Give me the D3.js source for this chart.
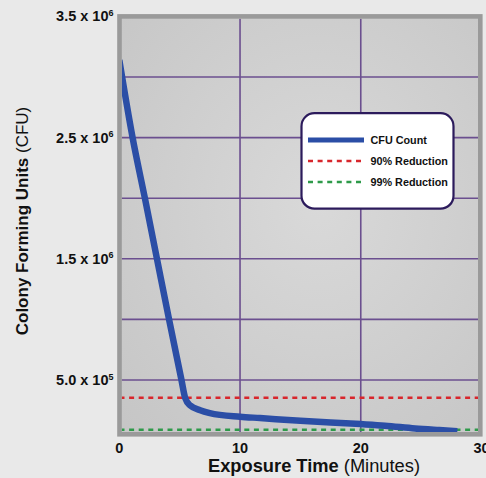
<!DOCTYPE html>
<html><head><meta charset="utf-8">
<script src="https://cdn.jsdelivr.net/npm/d3@7"></script>
<style>
html,body{margin:0;padding:0;background:#e9e9e9;}
svg{display:block;font-family:"Liberation Sans",Arial,sans-serif;}
</style></head><body>
<svg id="c" width="486" height="478"></svg>
<script>
// Data
const minutes = [0, 1.1, 2.12, 3.12, 4.12, 5.15, 5.45, 5.87, 6.7, 7.5, 10, 11.65, 15, 20, 22, 24.5, 26.5, 28];
const cfu = [3.14e6, 2.5e6, 2.0e6, 1.5e6, 1.0e6, 0.5e6, 0.354e6, 0.29e6, 0.25e6, 0.227e6, 0.197e6, 0.186e6, 0.163e6, 0.136e6, 0.123e6, 0.1e6, 0.087e6, 0.078e6];
const reduction90 = 0.354e6;
const reduction99 = 0.09e6;
const xTicks = [0, 10, 20, 30];
const xGrid = [10, 20];
const yGrid = [0.5e6, 1.0e6, 1.5e6, 2.0e6, 2.5e6, 3.0e6];
const yTickValues = [0.5e6, 1.5e6, 2.5e6, 3.5e6];
const yTickLabels = [["5.0 x 10", "5"], ["1.5 x 10", "6"], ["2.5 x 10", "6"], ["3.5 x 10", "6"]];
const legendItems = ["CFU Count", "90% Reduction", "99% Reduction"];

(function(){
const svg = d3.select("#c");
const x = d3.scaleLinear().domain([0, 30]).range([119.3, 481.5]);
const y = d3.scaleLinear().domain([0, 3.5e6]).range([440.6, 16.4]);

const pL = 119.5, pR = 480.3, pT = 16.4, pB = 434.3;

const defs = svg.append("defs");
const rg = defs.append("radialGradient").attr("id","bg").attr("cx","55%").attr("cy","45%").attr("r","75%");
rg.append("stop").attr("offset","0%").attr("stop-color","#d9d9d9");
rg.append("stop").attr("offset","100%").attr("stop-color","#c6c6c6");
defs.append("clipPath").attr("id","clip").append("rect")
  .attr("x", pL+2.2).attr("y", pT+2.3).attr("width", pR-pL-4.4).attr("height", pB-pT-4.5);

svg.append("rect").attr("x", pL).attr("y", pT).attr("width", pR-pL).attr("height", pB-pT)
  .attr("fill","url(#bg)");

const g = svg.append("g").attr("clip-path","url(#clip)");
g.selectAll(".hg").data(yGrid).enter().append("line")
  .attr("x1", pL).attr("x2", pR).attr("y1", d=>y(d)).attr("y2", d=>y(d))
  .attr("stroke","#6b4f8f").attr("stroke-width",1.6);
g.selectAll(".vg").data(xGrid).enter().append("line")
  .attr("y1", pT).attr("y2", pB).attr("x1", d=>x(d)).attr("x2", d=>x(d))
  .attr("stroke","#6b4f8f").attr("stroke-width",1.6);

g.append("line").attr("x1", pL).attr("x2", pR).attr("y1", y(reduction90)).attr("y2", y(reduction90))
  .attr("stroke","#d8262c").attr("stroke-width",2.6).attr("stroke-dasharray","5,4.6");
g.append("line").attr("x1", pL).attr("x2", pR).attr("y1", y(reduction99)).attr("y2", y(reduction99))
  .attr("stroke","#2e9a4a").attr("stroke-width",2.6).attr("stroke-dasharray","5,4.6");

const line = d3.line().x((d,i)=>x(minutes[i])).y(d=>y(d)).curve(d3.curveMonotoneX);
g.append("path").datum(cfu).attr("d", line).attr("fill","none")
  .attr("stroke","#2b4ea6").attr("stroke-width",6.5).attr("stroke-linejoin","round");

svg.append("rect").attr("x", pL).attr("y", pT).attr("width", pR-pL).attr("height", pB-pT)
  .attr("fill","none").attr("stroke","#9a9a9a").attr("stroke-width",4.6);

const yl = svg.selectAll(".yt").data(yTickValues).enter().append("text")
  .attr("x", 113.5).attr("y", d=>y(d)+5).attr("text-anchor","end")
  .attr("font-size","14.5px").attr("font-weight","bold").attr("fill","#111");
yl.append("tspan").text((d,i)=>yTickLabels[i][0]);
yl.append("tspan").attr("dy",-5.5).attr("font-size","9px").text((d,i)=>yTickLabels[i][1]);

svg.selectAll(".xt").data(xTicks).enter().append("text")
  .attr("x", d=>x(d)).attr("y", 452.8).attr("text-anchor","middle")
  .attr("font-size","14.5px").attr("font-weight","bold").attr("fill","#111").text(d=>d);

const xt = svg.append("text").attr("x", 314).attr("y", 471.8).attr("text-anchor","middle")
  .attr("font-size","18.3px").attr("fill","#111");
xt.append("tspan").attr("font-weight","bold").text("Exposure Time");
xt.append("tspan").text(" (Minutes)");

const yt = svg.append("text").attr("transform","translate(27.5,221) rotate(-90)").attr("text-anchor","middle")
  .attr("font-size","17px").attr("fill","#111");
yt.append("tspan").attr("font-weight","bold").text("Colony Forming Units");
yt.append("tspan").text(" (CFU)");

const lg = svg.append("g");
lg.append("rect").attr("x",301.5).attr("y",113.2).attr("width",152).attr("height",95.5).attr("rx",13)
  .attr("fill","#ffffff").attr("stroke","#2c1b5c").attr("stroke-width",2.2);
const legendStyles = [
  {stroke:"#2b4ea6", w:5, dash:null},
  {stroke:"#d8262c", w:2.4, dash:"5,4.6"},
  {stroke:"#2e9a4a", w:2.4, dash:"5,4.6"}
];
const ly = [140, 161, 182];
legendItems.forEach((t,i)=>{
  lg.append("line").attr("x1",308).attr("x2",364).attr("y1",ly[i]).attr("y2",ly[i])
    .attr("stroke",legendStyles[i].stroke).attr("stroke-width",legendStyles[i].w)
    .attr("stroke-dasharray",legendStyles[i].dash);
  lg.append("text").attr("x",370.5).attr("y",ly[i]+3.8).attr("font-size","10.8px").attr("font-weight","bold")
    .attr("fill","#111").text(t);
});
})();
</script>
</body></html>
